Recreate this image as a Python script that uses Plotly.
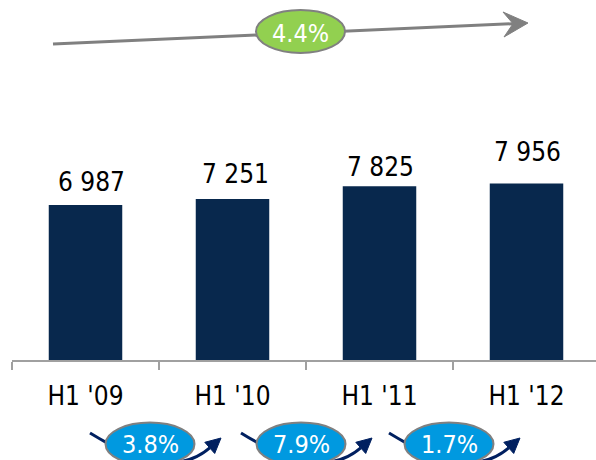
import plotly.graph_objects as go

# Half-year volumes
periods = ["H1 '09", "H1 '10", "H1 '11", "H1 '12"]
values = [6987, 7251, 7825, 7956]

# Period-on-period growth and compound annual growth
yoy = [values[i + 1] / values[i] - 1 for i in range(len(values) - 1)]
cagr = (values[-1] / values[0]) ** (1 / (len(values) - 1)) - 1

FONT = "DejaVu Sans Condensed, Liberation Sans, sans-serif"
BAR = "#08284D"
GRAY = "#808080"
AXIS = "#A0A0A0"
NAVY = "#002060"
GREEN = "#92D050"
BLUE = "#0099E0"

W, H = 596, 460
ML, MR, MT, MB = 12, 0, 0, 100
PW, PH = W - ML - MR, H - MT - MB
UNITS_PER_PX = 45.05


def px(x):
    return (x - ML) / PW


def py(y):
    return (MT + PH - y) / PH


def fmt(v):
    return f"{v:,}".replace(",", " ")


fig = go.Figure(go.Bar(
    x=periods, y=values, marker_color=BAR, marker_line_width=0,
    hoverinfo="skip",
))

# value labels above bars (lift in px from bar top to text centre)
label_lift = [23, 25, 19, 31]
label_dx = [6, 3, 1, 1]
for i, v in enumerate(values):
    fig.add_annotation(x=i, y=v, xref="x", yref="y", text=fmt(v),
                       showarrow=False, yanchor="middle", xanchor="center",
                       yshift=label_lift[i], xshift=label_dx[i],
                       font=dict(family=FONT, size=26, color="black"))

shapes = []

# overall trend arrow
x_start, y_start = 53, 44
x_tip, y_tip = 528, 23
x_notch, y_notch = 513, 23.7
shapes.append(dict(type="line", xref="paper", yref="paper",
                   x0=px(x_start), y0=py(y_start), x1=px(x_notch), y1=py(y_notch),
                   line=dict(color=GRAY, width=3)))
head = [(x_tip, y_tip), (503, 12), (x_notch, y_notch), (504, 37)]
path = "M" + " L".join(f"{px(a):.5f},{py(b):.5f}" for a, b in head) + " Z"
shapes.append(dict(type="path", xref="paper", yref="paper", path=path,
                   fillcolor=GRAY, line=dict(color=GRAY, width=1)))

# CAGR bubble
cx, cy, rw, rh = 300.5, 31.5, 44.5, 21.5
shapes.append(dict(type="circle", xref="paper", yref="paper",
                   x0=px(cx - rw), x1=px(cx + rw), y0=py(cy + rh), y1=py(cy - rh),
                   fillcolor=GREEN, line=dict(color=GRAY, width=2)))
fig.add_annotation(x=px(cx), y=py(cy + 1.5), xref="paper", yref="paper",
                   xanchor="center", yanchor="middle",
                   text=f"{cagr * 100:.1f}%", showarrow=False,
                   font=dict(family=FONT, size=25, color="white"))

# growth bubbles with curved arrows
bubble_x = [150, 301, 449]
by = 444
for bx, g in zip(bubble_x, yoy):
    p0 = (bx - 60, 433)
    c = (bx + 20, 483)
    p2 = (bx + 59.7, 448)
    tip = (bx + 71, 438)
    k1 = (bx + 64.7, 453.5)
    k2 = (bx + 54.8, 442.3)
    curve = (f"M{px(p0[0]):.5f},{py(p0[1]):.5f} "
             f"Q{px(c[0]):.5f},{py(c[1]):.5f} {px(p2[0]):.5f},{py(p2[1]):.5f}")
    shapes.append(dict(type="path", xref="paper", yref="paper", path=curve,
                       line=dict(color=NAVY, width=3)))
    tri = (f"M{px(tip[0]):.5f},{py(tip[1]):.5f} L{px(k1[0]):.5f},{py(k1[1]):.5f} "
           f"L{px(k2[0]):.5f},{py(k2[1]):.5f} Z")
    shapes.append(dict(type="path", xref="paper", yref="paper", path=tri,
                       fillcolor=NAVY, line=dict(color=NAVY, width=1)))
    shapes.append(dict(type="circle", xref="paper", yref="paper",
                       x0=px(bx - rw), x1=px(bx + rw), y0=py(by + rh), y1=py(by - rh),
                       fillcolor=BLUE, line=dict(color=GRAY, width=2)))
    fig.add_annotation(x=px(bx), y=py(by), xref="paper", yref="paper",
                       xanchor="center", yanchor="middle",
                       text=f"{g * 100:.1f}%", showarrow=False,
                       font=dict(family=FONT, size=25, color="white"))

fig.update_layout(
    width=W, height=H,
    margin=dict(l=ML, r=MR, t=MT, b=MB, pad=0),
    paper_bgcolor="white", plot_bgcolor="white",
    bargap=0.5, showlegend=False,
    shapes=shapes,
    xaxis=dict(type="category", range=[-0.5, 3.5 - 4 / 147 * 1],
               showline=True, linecolor=AXIS, linewidth=2,
               ticks="outside", tickson="boundaries", ticklen=8,
               tickcolor=AXIS, tickwidth=2, showgrid=False,
               ticklabelstandoff=12,
               tickfont=dict(family=FONT, size=26, color="black")),
    yaxis=dict(range=[0, PH * UNITS_PER_PX], visible=False,
               showgrid=False, zeroline=False),
)

fig.write_html("out.html")
